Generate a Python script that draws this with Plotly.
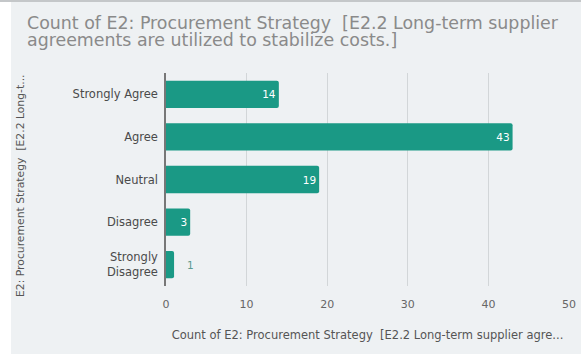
import plotly.graph_objects as go

categories = ["Strongly Agree", "Agree", "Neutral", "Disagree", "Strongly<br>Disagree"]
counts = [14, 43, 19, 3, 1]
x_ticks = [0, 10, 20, 30, 40, 50]

BAR = "#1a9985"
FONT = "DejaVu Sans"
W, H = 581, 356
L, R, T, B = 166, 12, 73, 70
pw, ph = W - L - R, H - T - B


def px_x(p):
    return (p - L) / pw


def px_y(p):
    return (H - B - p) / ph


text_pos = ["inside" if v >= 3 else "outside" for v in counts]
text_col = ["white" if v >= 3 else "#5a9a90" for v in counts]
labels = [str(v) if v >= 3 else "   " + str(v) for v in counts]

fig = go.Figure(
    go.Bar(
        y=categories,
        x=counts,
        orientation="h",
        marker=dict(color=BAR, line=dict(width=0), cornerradius=2),
        text=labels,
        textposition=text_pos,
        insidetextanchor="end",
        textfont=dict(color=text_col, size=10.5, family=FONT),
        cliponaxis=False,
    )
)

fig.update_layout(
    width=W,
    height=H,
    margin=dict(l=L, r=R, t=T, b=B, autoexpand=False),
    paper_bgcolor="white",
    plot_bgcolor="rgba(0,0,0,0)",
    bargap=0.36,
    showlegend=False,
    font=dict(family=FONT, color="#555555"),
    xaxis=dict(
        range=[0, 50],
        tickvals=x_ticks,
        automargin=False,
        showgrid=True,
        gridcolor="#d2d6d8",
        gridwidth=1,
        zeroline=False,
        showline=False,
        tickfont=dict(size=11, color="#666666"),
        ticks="",
        ticklabelstandoff=10,
        ticklabeloverflow="allow",
        title=dict(
            text="Count of E2: Procurement Strategy  [E2.2 Long-term supplier agre...",
            font=dict(size=11.5, color="#555555"),
            standoff=20,
        ),
    ),
    yaxis=dict(
        categoryorder="array",
        categoryarray=categories[::-1],
        automargin=False,
        showgrid=False,
        zeroline=False,
        showline=True,
        linecolor="#777777",
        linewidth=1.5,
        tickfont=dict(size=11.5, color="#4a4a4a"),
        ticks="",
        ticklabelstandoff=4,
    ),
)

# panel background and top border
fig.add_shape(type="rect", xref="paper", yref="paper",
              x0=px_x(11), x1=px_x(581), y0=px_y(354), y1=px_y(2),
              fillcolor="#eef1f3", line=dict(width=0), layer="below")
fig.add_shape(type="line", xref="paper", yref="paper",
              x0=px_x(0), x1=px_x(581), y0=px_y(1), y1=px_y(1),
              line=dict(color="#c4c7c9", width=2), layer="below")

# title on two lines
for txt, yc in [("Count of E2: Procurement Strategy  [E2.2 Long-term supplier", 23),
                ("agreements are utilized to stabilize costs.]", 40)]:
    fig.add_annotation(text=txt, xref="paper", yref="paper",
                       x=px_x(25), y=px_y(yc), xanchor="left", yanchor="middle",
                       showarrow=False, font=dict(size=17.4, color="#8a8a8a"))

# rotated y-axis title
fig.add_annotation(text="E2: Procurement Strategy  [E2.2 Long-t...",
                   xref="paper", yref="paper", x=px_x(20), y=px_y(186),
                   xanchor="center", yanchor="middle", textangle=-90,
                   showarrow=False, font=dict(size=10.8, color="#555555"))

fig.write_html("out.html")
